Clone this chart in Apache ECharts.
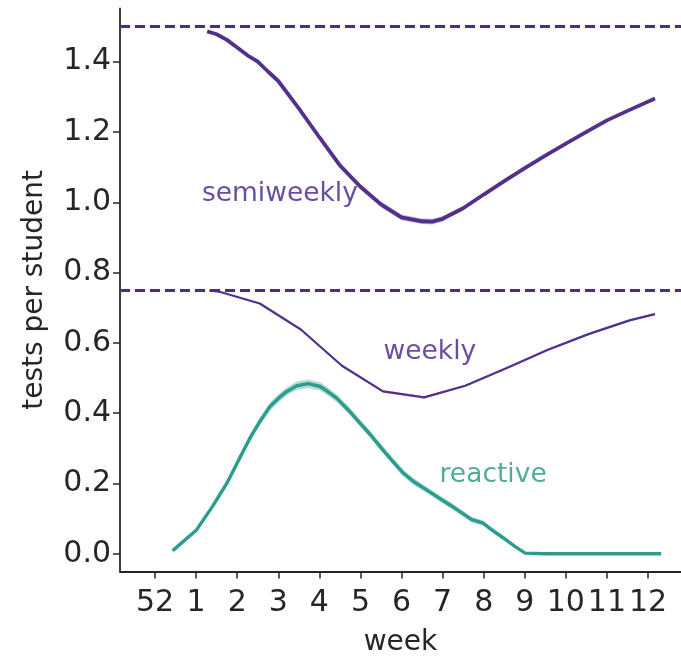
<!DOCTYPE html>
<html><head><meta charset="utf-8">
<script src="https://cdn.jsdelivr.net/npm/echarts@6/dist/echarts.min.js"></script>
<style>html,body{margin:0;padding:0;background:#fff}#c{width:681px;height:656px}</style>
</head><body><div id="c"></div>
<script>
// ---- data ----
const xTickValues = [0,1,2,3,4,5,6,7,8,9,10,11,12];
const xTickLabels = ['52','1','2','3','4','5','6','7','8','9','10','11','12'];
const yTickValues = [0,0.2,0.4,0.6,0.8,1.0,1.2,1.4];

const semiX = [1.27,1.5,1.75,2.0,2.25,2.5,2.75,3.0,3.5,4.0,4.5,5.0,5.5,6.0,6.5,6.75,7.0,7.5,8.0,8.5,9.0,9.5,10.0,10.5,11.0,11.5,12.17];
const semiY = [1.486,1.478,1.462,1.44,1.418,1.40,1.372,1.345,1.267,1.185,1.105,1.044,0.994,0.957,0.946,0.945,0.953,0.983,1.022,1.06,1.097,1.133,1.167,1.200,1.233,1.26,1.295];
const semiErr = [0.002,0.002,0.003,0.003,0.003,0.003,0.003,0.004,0.004,0.005,0.006,0.007,0.008,0.008,0.008,0.008,0.007,0.006,0.005,0.005,0.005,0.005,0.004,0.004,0.004,0.004,0.004];

const weekX = [1.32,1.55,2.55,3.55,4.55,5.55,6.55,7.55,8.55,9.55,10.55,11.55,12.17];
const weekY = [0.749,0.746,0.712,0.638,0.535,0.462,0.445,0.478,0.528,0.58,0.625,0.664,0.682];
const weekErr = [0.001,0.001,0.002,0.002,0.003,0.003,0.003,0.003,0.003,0.003,0.003,0.003,0.003];

const reacX = [0.43,1.01,1.4,1.75,2.05,2.31,2.55,2.8,3.0,3.21,3.45,3.73,4.02,4.2,4.42,4.7,4.99,5.25,5.48,5.75,6.04,6.3,6.61,6.9,7.18,7.45,7.71,7.99,8.2,8.48,8.75,9.01,9.5,10,10.5,11,11.5,12,12.32];
const reacY = [0.009,0.068,0.135,0.201,0.27,0.329,0.376,0.419,0.442,0.462,0.478,0.484,0.476,0.462,0.443,0.41,0.372,0.338,0.305,0.268,0.230,0.205,0.182,0.16,0.139,0.118,0.097,0.087,0.068,0.045,0.022,0.002,0,0,0,0,0,0,0];
const reacErr = [0.002,0.004,0.006,0.008,0.009,0.010,0.011,0.012,0.012,0.012,0.012,0.012,0.012,0.012,0.011,0.011,0.010,0.010,0.010,0.010,0.010,0.010,0.009,0.009,0.009,0.008,0.008,0.008,0.007,0.006,0.004,0.002,0,0,0,0,0,0,0];

const refLevels = [1.5, 0.75];
const labelTexts = ['semiweekly','weekly','reactive'];
const labelPos = [[3.04,1.024],[6.69,0.575],[8.23,0.225]];

// ---- styles ----
const PURPLE = '#52308c';
const PURPLE_TXT = '#44218a';
const DASH = '#4d2b86';
const TEAL = '#2a9d8c';
const TEAL_TXT = '#23977f';
const TXT = '#262626';
const FONT = 'DejaVu Sans';

function pairs(xs, ys){ return xs.map((x,i)=>[x, ys[i]]); }
function bandSeries(xs, ys, es, color){
  const rows = xs.map((x,i)=>[x, ys[i]-es[i], ys[i]+es[i]]);
  return {
    type:'custom', silent:true, z:1,
    data: rows,
    encode:{x:0, y:[1,2]},
    renderItem: function(params, api){
      if (params.dataIndex !== 0) return null;
      const up = rows.map(r=>api.coord([r[0], r[2]]));
      const lo = rows.map(r=>api.coord([r[0], r[1]])).reverse();
      return {type:'polygon', shape:{points: up.concat(lo)}, style:{fill: color}};
    }
  };
}
function lineSeries(xs, ys, color, width){
  return {type:'line', data: pairs(xs, ys), showSymbol:false, symbol:'none', z:3,
    lineStyle:{color: color, width: width}, silent:true, animation:false};
}

const chart = echarts.init(document.getElementById('c'), null, {renderer:'canvas'});
const option = {
  animation:false,
  backgroundColor:'#ffffff',
  grid:{left:120, right:0, top:8.4, bottom:84.5, containLabel:false, outerBoundsMode:'none'},
  xAxis:{
    type:'value', min:-0.852, max:12.803,
    name:'week', nameLocation:'middle', nameGap:57,
    nameTextStyle:{fontFamily:FONT, fontSize:28, color:TXT},
    axisLine:{show:true, onZero:false, lineStyle:{color:TXT, width:1.8}},
    axisTick:{show:true, length:7, customValues:xTickValues, lineStyle:{color:TXT, width:1.5}},
    axisLabel:{customValues:xTickValues, margin:17, fontFamily:FONT, fontSize:30, color:TXT,
      formatter:function(v){ const i = xTickValues.indexOf(Math.round(v)); return i>=0 ? xTickLabels[i] : ''; }},
    splitLine:{show:false}
  },
  yAxis:{
    type:'value', min:-0.0503, max:1.5515,
    name:'tests per student', nameLocation:'middle', nameGap:71,
    nameTextStyle:{fontFamily:FONT, fontSize:28, color:TXT},
    axisLine:{show:true, onZero:false, lineStyle:{color:TXT, width:1.8}},
    axisTick:{show:true, length:7, customValues:yTickValues, lineStyle:{color:TXT, width:1.5}},
    axisLabel:{customValues:yTickValues, margin:9, fontFamily:FONT, fontSize:30, color:TXT,
      formatter:function(v){ return v.toFixed(1); }},
    splitLine:{show:false}
  },
  series:[
    bandSeries(semiX, semiY, semiErr, 'rgba(85,49,142,0.35)'),
    bandSeries(weekX, weekY, weekErr, 'rgba(85,49,142,0.3)'),
    bandSeries(reacX, reacY, reacErr, 'rgba(42,157,140,0.35)'),
    Object.assign(lineSeries(semiX, semiY, PURPLE, 3.8), {
      markLine:{silent:true, symbol:['none','none'], label:{show:false},
        lineStyle:{color:DASH, type:[10,5], width:2.8},
        data: refLevels.map(v=>({yAxis:v}))}
    }),
    lineSeries(weekX, weekY, PURPLE, 2.2),
    lineSeries(reacX, reacY, TEAL, 3.4),
    {type:'scatter', symbolSize:0, z:5, silent:true,
      data: labelPos.map((p,i)=>({value:p, label:{show:true, position:'inside', formatter: labelTexts[i],
        fontFamily:FONT, fontSize:26.5, color: i===2 ? TEAL_TXT : PURPLE_TXT}}))}
  ]
};
chart.setOption(option);
</script>
</body></html>
